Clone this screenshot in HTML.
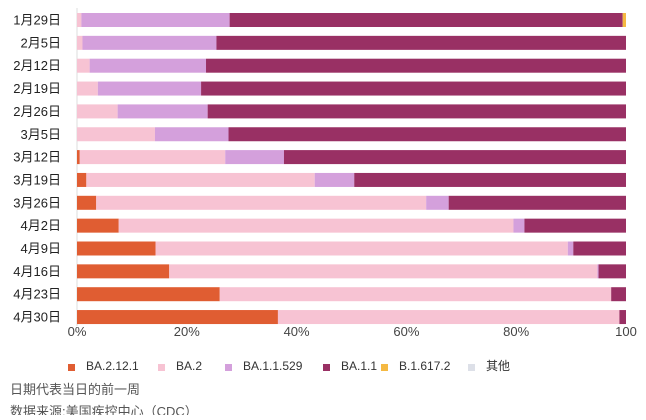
<!DOCTYPE html>
<html><head><meta charset="utf-8"><style>
body{margin:0;background:#fff;width:646px;height:415px;overflow:hidden;font-family:"Liberation Sans","Noto Sans CJK SC",sans-serif;}
svg text{font-family:"Liberation Sans","Noto Sans CJK SC",sans-serif;}
</style></head><body>
<svg id="chart" width="646" height="415"></svg>
<script>
const categories=["1月29日","2月5日","2月12日","2月19日","2月26日","3月5日","3月12日","3月19日","3月26日","4月2日","4月9日","4月16日","4月23日","4月30日"];
const seriesNames=["BA.2.12.1","BA.2","BA.1.1.529","BA.1.1","B.1.617.2","其他"];
const ba2121=[0,0,0,0,0,0,0.5,1.7,3.5,7.6,14.3,16.8,26.0,36.6];
const ba2=[0.8,1.0,2.3,3.8,7.4,14.2,26.5,41.6,60.1,71.9,75.1,78.0,71.3,62.2];
const ba11529=[27.0,24.4,21.2,18.8,16.4,13.4,10.7,7.2,4.1,2.0,1.0,0.2,0,0];
const ba11=[71.6,74.6,76.5,77.4,76.2,72.4,62.3,49.5,32.3,18.5,9.6,5.0,2.7,1.2];
const b16172=[0.6,0,0,0,0,0,0,0,0,0,0,0,0,0];
const other=[0,0,0,0,0,0,0,0,0,0,0,0,0,0];
const tickValues=[0,20,40,60,80,100];
const tickLabels=["0%","20%","40%","60%","80%","100"];
const colors=["#e05d32","#f7c3d3","#d4a0dc","#993064","#f5b942","#dde0e8"];
const series=[ba2121,ba2,ba11529,ba11,b16172,other];
const NS="http://www.w3.org/2000/svg";
const svg=document.getElementById('chart');
const x0=77,x1=626,yTop=20,step=22.85,bh=14;
const xs=v=>x0+(x1-x0)*v/100;
const ys=i=>yTop+i*step;
function el(t,a){const e=document.createElementNS(NS,t);for(const k in a)e.setAttribute(k,a[k]);svg.appendChild(e);return e;}
const ax=el('line',{x1:x0,x2:x0,y1:8,y2:326,stroke:'#ddd','stroke-width':1});


categories.forEach((c,i)=>{
  const t=el('text',{x:61,y:ys(i)+4.5,'text-anchor':'end','font-size':13,fill:'#222'});
  t.textContent=c;
  
  
  let acc=0;
  series.forEach((s,k)=>{
    const v=s[i];
    if(v>0){
      const r=el('rect',{x:xs(acc),y:ys(i)-bh/2,width:xs(acc+v)-xs(acc),height:bh,fill:colors[k]});
      
      
    }
    acc+=v;
  });
});
tickValues.forEach((v,i)=>{
  const t=el('text',{x:xs(v),y:336,'text-anchor':'middle','font-size':13,fill:'#444'});
  t.textContent=tickLabels[i];
  
  
});
const legendX=[68,158,225,323,381,468];
seriesNames.forEach((n,k)=>{
  const r=el('rect',{x:legendX[k],y:364,width:7,height:7,fill:colors[k]});
  
  
  const t=el('text',{x:legendX[k]+18,y:370,'font-size':12,fill:'#333'});
  t.textContent=n;
  
  
});
const f1=el('text',{x:10,y:394,'font-size':13,fill:'#555'});
f1.textContent="日期代表当日的前一周";


const f2=el('text',{x:10,y:416,'font-size':13,fill:'#555'});
f2.textContent="数据来源:美国疾控中心（CDC）";


</script>
</body></html>
